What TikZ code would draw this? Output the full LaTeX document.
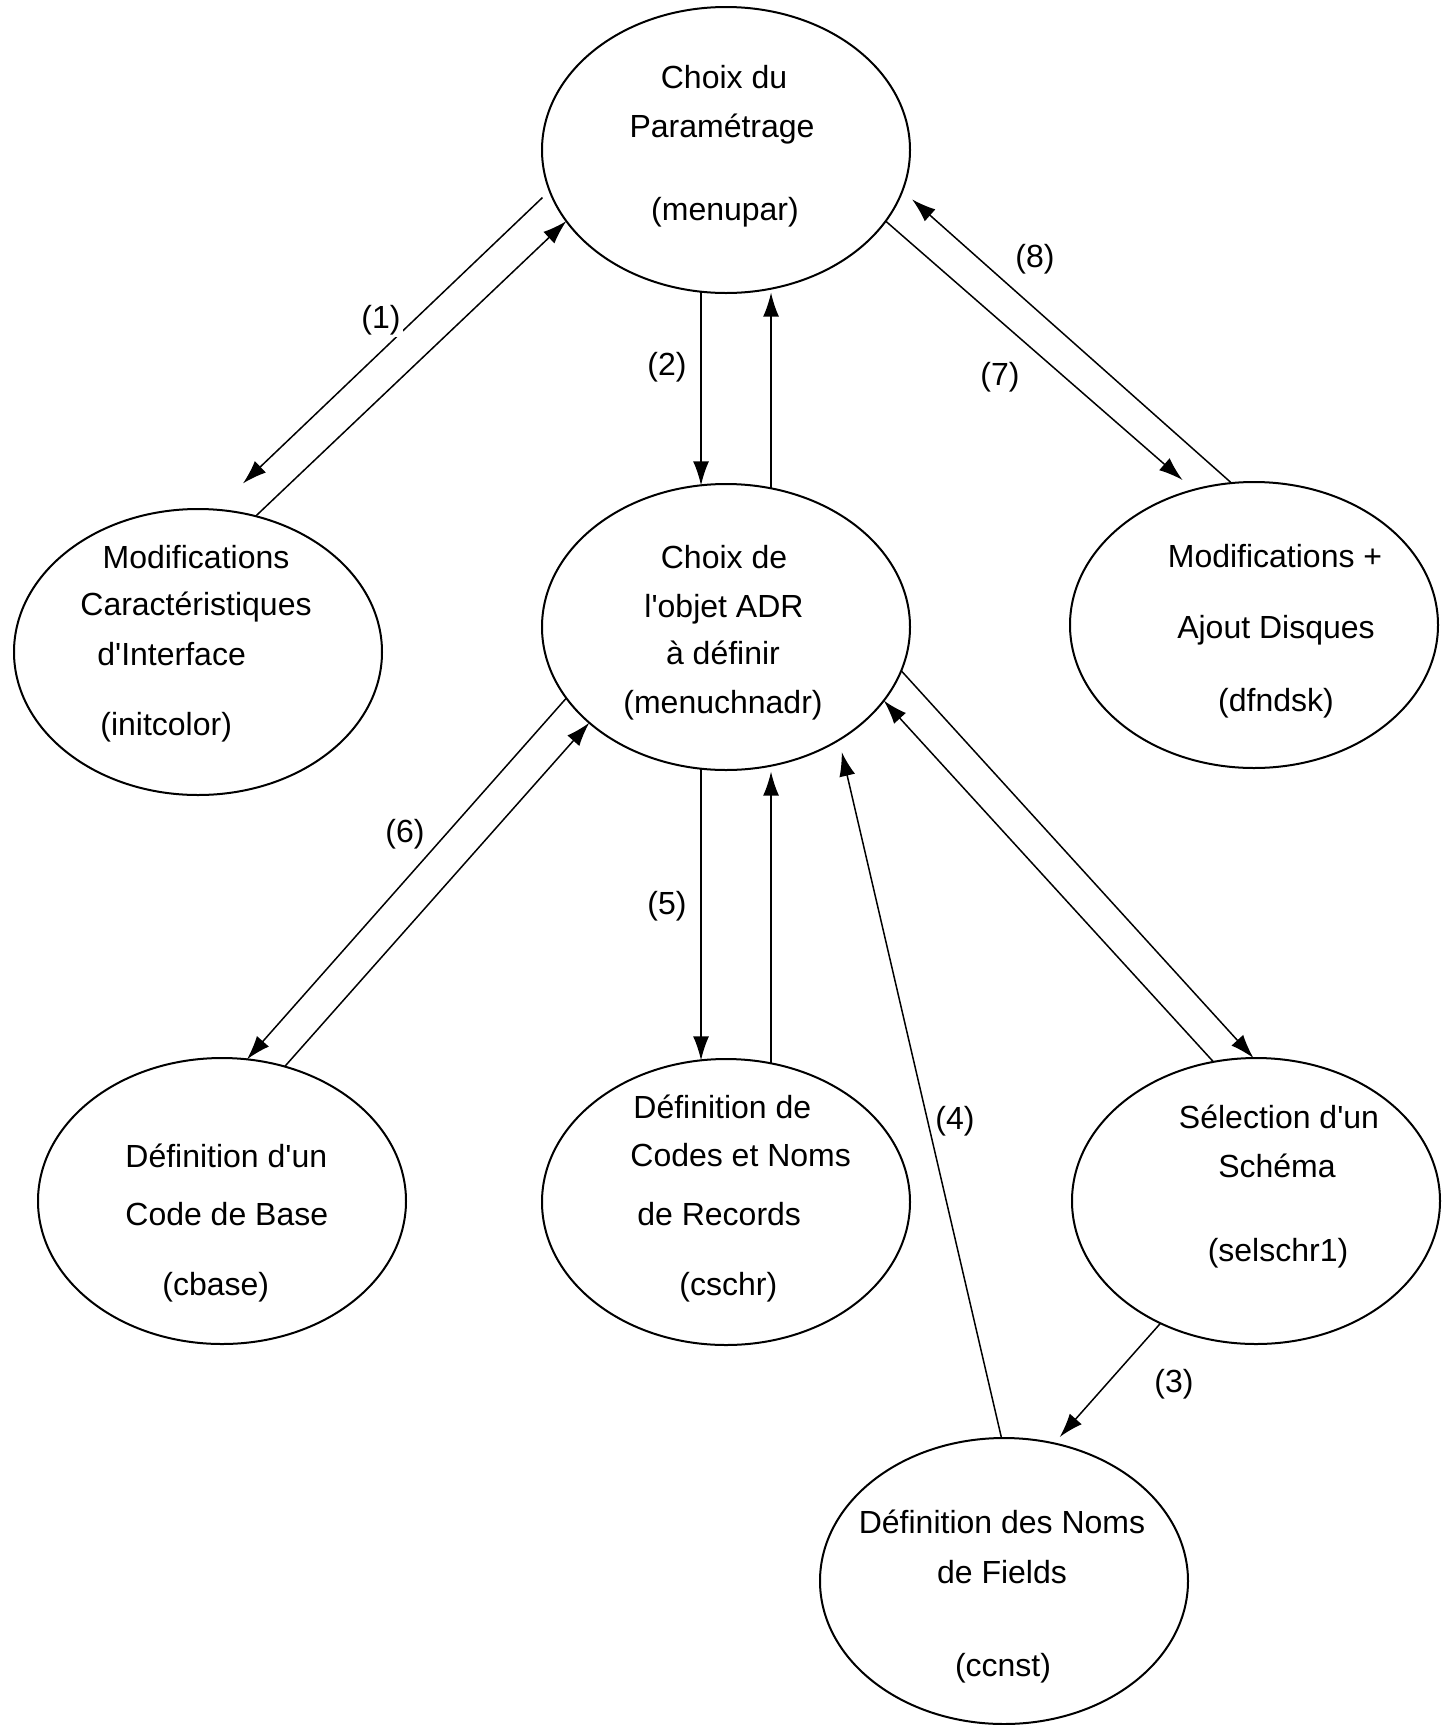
\documentclass[tikz,border=0pt]{standalone}
\usepackage{fontspec}
\setmainfont{Liberation Sans}
\usetikzlibrary{shapes.geometric,arrows.meta}
\newcommand{\ap}{\textquotesingle}
\begin{document}
\begin{tikzpicture}[x=0.5pt,y=-0.5pt,
  proc/.style={draw, ellipse, line width=1pt, minimum width=184pt, minimum height=143pt, inner sep=0pt, outer sep=0pt},
  txt/.style={font=\fontsize{16}{19}\selectfont, inner sep=0pt, anchor=base},
  txtl/.style={txt, anchor=base west},
  num/.style={font=\fontsize{16}{19}\selectfont, inner sep=1pt, fill=white},
  link/.style={line width=0.75pt, -{Latex[length=12pt,width=8pt]}}
]
\useasboundingbox (0,0) rectangle (1443,1725);

% processes
\node[proc] (menupar) at (726,150) {};
\node[proc] (initcolor) at (198,652) {};
\node[proc] (menuchnadr) at (726,627) {};
\node[proc] (dfndsk) at (1254,625) {};
\node[proc] (cbase) at (222,1201) {};
\node[proc] (cschr) at (726,1202) {};
\node[proc] (selschr) at (1256,1201) {};
\node[proc] (ccnst) at (1004,1581) {};

% texts
\node[txt] (menupar-a) at (724,88) {Choix du};
\node[txt] (menupar-b) at (722,137) {Paramétrage};
\node[txt] (menupar-c) at (725,220) {(menupar)};

\node[txt] (initcolor-a) at (196,568) {Modifications};
\node[txt] (initcolor-b) at (196,615) {Caractéristiques};
\node[txtl] (initcolor-c) at (97,665) {d\ap Interface};
\node[txtl] (initcolor-d) at (100,735) {(initcolor)};

\node[txt] (menuchnadr-a) at (724,568) {Choix de};
\node[txt] (menuchnadr-b) at (724,617) {l\ap objet ADR};
\node[txt] (menuchnadr-c) at (723,664) {à définir};
\node[txt] (menuchnadr-d) at (723,713) {(menuchnadr)};

\node[txt] (dfndsk-a) at (1275,567) {Modifications +};
\node[txt] (dfndsk-b) at (1276,638) {Ajout Disques};
\node[txt] (dfndsk-c) at (1276,711) {(dfndsk)};

\node[txtl] (cbase-a) at (125,1167) {Définition d\ap un};
\node[txtl] (cbase-b) at (125,1225) {Code de Base};
\node[txtl] (cbase-c) at (162,1295) {(cbase)};

\node[txtl] (cschr-a) at (633,1118) {Définition de};
\node[txtl] (cschr-b) at (630,1166) {Codes et Noms};
\node[txtl] (cschr-c) at (637,1225) {de Records};
\node[txtl] (cschr-d) at (679,1295) {(cschr)};

\node[txt] (selschr-a) at (1279,1128) {Sélection d\ap un};
\node[txt] (selschr-b) at (1277,1177) {Schéma};
\node[txt] (selschr-c) at (1278,1261) {(selschr1)};

\node[txt] (ccnst-a) at (1002,1533) {Définition des Noms};
\node[txt] (ccnst-b) at (1002,1583) {de Fields};
\node[txt] (ccnst-c) at (1003,1676) {(ccnst)};

% connectors
\draw[link, shorten <=5pt, shorten >=19pt] (menupar.193) -- (initcolor.83);
\draw[link] (initcolor.67) -- (menupar.204);
\draw[link] (menupar.260) -- (menuchnadr.100);
\draw[link, shorten >=2pt] (menuchnadr.72) -- (menupar.288);
\draw[link, shorten >=7.5pt] (menupar.336) -- (dfndsk.114);
\draw[link, shorten >=6.5pt] (dfndsk.99) -- (menupar.347);
\draw[link] (menuchnadr.260) -- (cschr.100);
\draw[link, shorten >=3pt] (cschr.72) -- (menuchnadr.288);
\draw[link] (menuchnadr.204) -- (cbase.80);
\draw[link] (cbase.65) -- (menuchnadr.215);
\draw[link] (menuchnadr.346) -- (selschr.91);
\draw[link] (selschr.107) -- (menuchnadr.335);
\draw[link, shorten >=4.3pt] (selschr.232) -- (ccnst.70);
\draw[link, shorten >=6.25pt] (ccnst.91) -- (menuchnadr.315);

% labels
\node[num] (l1) at (381,320) {(1)};
\node[num] (l2) at (667,367) {(2)};
\node[num] (l3) at (1174,1384) {(3)};
\node[num] (l4) at (955,1121) {(4)};
\node[num] (l5) at (667,906) {(5)};
\node[num] (l6) at (405,834) {(6)};
\node[num] (l7) at (1000,377) {(7)};
\node[num] (l8) at (1035,259) {(8)};
\end{tikzpicture}
\end{document}
